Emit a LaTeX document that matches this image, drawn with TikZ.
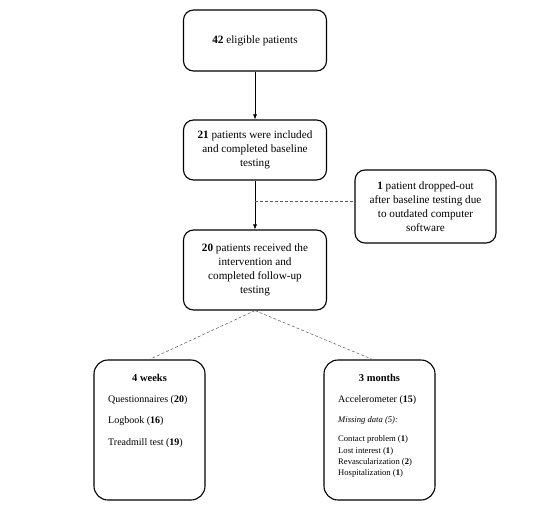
\documentclass[tikz,border=0pt]{standalone}
\usepackage{fontspec}
\setmainfont{Liberation Serif}
\usetikzlibrary{arrows.meta,calc}

\tikzset{
  flowbox/.style={draw, line width=1.1pt, rounded corners=10pt, align=center,
    minimum width=143pt, font=\fontsize{11.2}{14.2}\selectfont},
  panel/.style={draw, line width=1.1pt, rounded corners=14pt,
    minimum width=111pt, minimum height=140pt},
  flowarrow/.style={-{Latex[length=5pt,width=4pt]}, line width=0.6pt},
  branch/.style={densely dashed, gray!70!black, line width=0.5pt},
  item/.style={anchor=base west, inner sep=0pt, font=\fontsize{10}{12}\selectfont},
  small/.style={anchor=base west, inner sep=0pt, font=\fontsize{8.6}{10}\selectfont},
}

\begin{document}
\begin{tikzpicture}[x=1pt, y=-1pt]
    \useasboundingbox (0,0) rectangle (546,519);

    % main flow
    \node[flowbox, minimum height=61pt] (eligible) at (255,40.5) {\textbf{42} eligible patients};
    \node[flowbox, minimum height=60pt] (included) at (255,150) {\textbf{21} patients were included\\and completed baseline\\testing};
    \node[flowbox, minimum height=80pt] (received) at (255,270) {\textbf{20} patients received the\\intervention and\\completed follow-up\\testing};
    \node[flowbox, minimum width=141pt, minimum height=73pt] (dropout) at (425.5,206.5) {\textbf{1} patient dropped-out\\after baseline testing due\\to outdated computer\\software};

    \draw[flowarrow] (eligible) -- (included);
    \draw[flowarrow] (included) -- (received);
    \coordinate (split) at ($(included.south)!0.42!(received.north)$);
    \draw[branch] (split) -- (split -| dropout.west);

    % follow-up panels
    \node[panel] (weeks) at (149.5,430) {};
    \node[panel] (months) at (379.5,430) {};
    \draw[branch] (received.south) -- (weeks.north);
    \draw[branch] (received.south) -- ([xshift=-7pt]months.north);

    \node[anchor=base, inner sep=0pt, font=\fontsize{10.5}{12}\selectfont] (weekshead) at (149.5,381.5) {\textbf{4 weeks}};
    \node[item] (quest) at (108,402) {Questionnaires (\textbf{20})};
    \node[item] (logbook) at (108,423) {Logbook (\textbf{16})};
    \node[item] (treadmill) at (108,445) {Treadmill test (\textbf{19})};

    \node[anchor=base, inner sep=0pt, font=\fontsize{10.5}{12}\selectfont] (monthshead) at (379.5,381.5) {\textbf{3 months}};
    \node[item] (accel) at (338,402) {Accelerometer (\textbf{15})};
    \node[small] (missing) at (338,422) {\textit{Missing data (5):}};
    \foreach \txt [count=\i] in {Contact problem (\textbf{1}), Lost interest (\textbf{1}),
        Revascularization (\textbf{2}), Hospitalization (\textbf{1})} {
        \node[small] (reason\i) at (338,{430.8+11.1*\i}) {\txt};
    }
\end{tikzpicture}
\end{document}
